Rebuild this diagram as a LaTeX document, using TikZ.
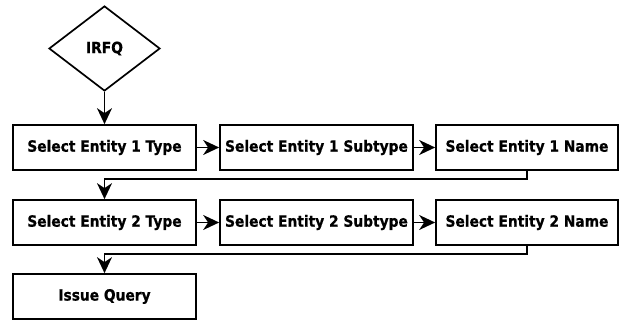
\documentclass[tikz,border=0pt]{standalone}
\usepackage{fontspec}
\setmainfont{DejaVu Sans}[FakeStretch=0.89,BoldFeatures={FakeBold=0.8}]
\usetikzlibrary{shapes.geometric,arrows.meta}
\begin{document}
\begin{tikzpicture}[x=1pt,y=-1pt,
  every node/.style={font=\fontsize{15.5}{18}\selectfont\bfseries},
  stepbox/.style={draw,line width=1.7pt,rectangle,inner sep=0pt,minimum height=45pt},
  decision/.style={draw,line width=1.7pt,diamond,inner sep=0pt,minimum width=111pt,minimum height=85pt},
  conn/.style={line width=1.7pt,-{Stealth[length=16pt,width=15pt,inset=5pt]}}]
\useasboundingbox (0,0) rectangle (619,320);
\node[decision] (q) at (104.5,48.5) {IRFQ};
\node[stepbox,minimum width=183pt] (a1) at (104.5,147.5) {Select Entity 1 Type};
\node[stepbox,minimum width=193pt] (a2) at (316.5,147.5) {Select Entity 1 Subtype};
\node[stepbox,minimum width=182pt] (a3) at (527,147.5) {Select Entity 1 Name};
\node[stepbox,minimum width=183pt] (b1) at (104.5,222.5) {Select Entity 2 Type};
\node[stepbox,minimum width=193pt] (b2) at (316.5,222.5) {Select Entity 2 Subtype};
\node[stepbox,minimum width=182pt] (b3) at (527,222.5) {Select Entity 2 Name};
\node[stepbox,minimum width=183pt] (c) at (104.5,296.5) {Issue Query};
\draw[conn] (q.south) -- (a1.north);
\draw[conn] (a1.east) -- (a2.west);
\draw[conn] (a2.east) -- (a3.west);
\draw[conn] (a3.south) -- ++(0,8) -| (b1.north);
\draw[conn] (b1.east) -- (b2.west);
\draw[conn] (b2.east) -- (b3.west);
\draw[conn] (b3.south) -- ++(0,8) -| (c.north);
\end{tikzpicture}
\end{document}
